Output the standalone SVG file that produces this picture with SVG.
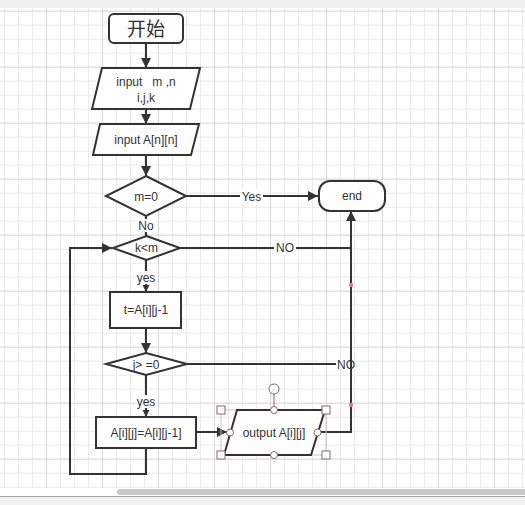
<svg xmlns="http://www.w3.org/2000/svg" width="525" height="505" viewBox="0 0 525 505">
<defs>
<pattern id="minor" patternUnits="userSpaceOnUse" x="4" y="10.7" width="14" height="14">
<path d="M0 0.5H14M0.5 0V14" fill="none" stroke="#eaeaea" stroke-width="1"/>
</pattern>
<pattern id="major" patternUnits="userSpaceOnUse" x="46" y="10.7" width="56" height="56">
<path d="M0 0.5H56M0.5 0V56" fill="none" stroke="#d8d8d8" stroke-width="1"/>
</pattern>
<marker id="arr" viewBox="0 0 10 10" refX="10" refY="5" markerWidth="11" markerHeight="10" markerUnits="userSpaceOnUse" orient="auto">
<path d="M0 0L10 5L0 10Z" fill="#333"/>
</marker>
<marker id="arrs" viewBox="0 0 10 10" refX="10" refY="5" markerWidth="7" markerHeight="7" markerUnits="userSpaceOnUse" orient="auto">
<path d="M0 0L10 5L0 10Z" fill="#333"/>
</marker>
</defs>
<style>
.shape{fill:#fff;stroke:#333;stroke-width:2}
.ln{fill:none;stroke:#333;stroke-width:2}
.t{font-family:"Liberation Sans","Noto Sans CJK SC",sans-serif;font-size:12px;fill:#333;text-anchor:middle;dominant-baseline:central}
.lbl{fill:#fff}
.h{fill:#fff;stroke:#8c6464;stroke-width:1}
.dot{fill:#e07a7a}
</style>
<rect x="0" y="0" width="525" height="505" fill="#fff"/>
<rect x="0" y="8" width="525" height="480" fill="url(#minor)"/>
<rect x="0" y="8" width="525" height="480" fill="url(#major)"/>
<rect x="0" y="0" width="525" height="8" fill="#f0f0f0"/>
<rect x="117" y="489" width="420" height="6" rx="3" fill="#c8c8c8"/>
<rect x="0" y="496" width="525" height="1" fill="#a8a8a8"/>
<rect x="0" y="497" width="525" height="8" fill="#f2f2f2"/>

<g id="connectors">
<line class="ln" x1="146" y1="43" x2="146" y2="68" marker-end="url(#arr)"/>
<line class="ln" x1="146" y1="110" x2="146" y2="124" marker-end="url(#arr)"/>
<line class="ln" x1="146" y1="155" x2="146" y2="176" marker-end="url(#arr)"/>
<line class="ln" x1="186" y1="196" x2="318" y2="196" marker-end="url(#arr)"/>
<rect class="lbl" x="240" y="189" width="23" height="14"/>
<text class="t" x="251.5" y="196.5">Yes</text>
<line class="ln" x1="146" y1="216" x2="146" y2="236"/>
<rect class="lbl" x="136" y="219" width="20" height="13"/>
<text class="t" x="146" y="225.5">No</text>
<polyline class="ln" points="180,248 351,248"/>
<rect class="lbl" x="274" y="241" width="22" height="14"/>
<text class="t" x="285" y="248">NO</text>
<line class="ln" x1="146" y1="260" x2="146" y2="292" marker-end="url(#arrs)"/>
<rect class="lbl" x="135" y="271" width="22" height="13"/>
<text class="t" x="146" y="277.5">yes</text>
<line class="ln" x1="146" y1="328" x2="146" y2="353" marker-end="url(#arr)"/>
<line class="ln" x1="187" y1="364" x2="336" y2="364"/>
<text class="t" x="346" y="364.5">NO</text>
<line class="ln" x1="146" y1="375" x2="146" y2="417" marker-end="url(#arrs)"/>
<rect class="lbl" x="135" y="395" width="22" height="13"/>
<text class="t" x="146" y="401.5">yes</text>
<line class="ln" x1="196" y1="432" x2="227" y2="432" marker-end="url(#arr)"/>
<polyline class="ln" points="146,448 146,474 70,474 70,248 112,248" marker-end="url(#arr)"/>
<polyline class="ln" points="318,432 351,432 351,211" marker-end="url(#arr)"/>
<circle class="dot" cx="351" cy="285" r="2.2"/>
<circle class="dot" cx="351" cy="405" r="2.2"/>
</g>

<g id="start">
<rect class="shape" x="109" y="14" width="74" height="29" rx="5"/>
<text class="t" x="146" y="29" style="font-size:19px">开始</text>
</g>
<g id="input1">
<polygon class="shape" points="102,68 200,68 190,109 92,109"/>
<text class="t" x="146" y="81.5">input&#160;&#160; m ,n</text>
<text class="t" x="146" y="97.5">i,j,k</text>
</g>
<g id="input2">
<polygon class="shape" points="100,124 199,124 191,155 93,155"/>
<text class="t" x="146" y="140">input A[n][n]</text>
</g>
<g id="cond1">
<polygon class="shape" points="146,176 186,196 146,216 106,196"/>
<text class="t" x="146" y="196.5">m=0</text>
</g>
<g id="end">
<rect class="shape" x="319" y="181" width="66" height="30" rx="11"/>
<text class="t" x="352" y="196">end</text>
</g>
<g id="cond2">
<polygon class="shape" points="146.5,236 180,248 146.5,260 113,248"/>
<text class="t" x="146.5" y="248">k&lt;m</text>
</g>
<g id="assign1">
<rect class="shape" x="110" y="292" width="71" height="36"/>
<text class="t" x="146" y="310">t=A[i][j-1</text>
</g>
<g id="cond3">
<polygon class="shape" points="146,353 187,364 146,375 106,364"/>
<text class="t" x="146" y="364.5">j&gt; =0</text>
</g>
<g id="assign2">
<rect class="shape" x="96" y="417" width="100" height="31"/>
<text class="t" x="146" y="432.5">A[i][j]=A[i][j-1]</text>
</g>
<g id="output">
<rect x="221" y="410" width="105" height="45" fill="none" stroke="#d2c2c2" stroke-width="1"/>
<polygon points="237,410 325,410 311,455 224,455" fill="#fff" stroke="#3a2e2e" stroke-width="2"/>
<text class="t" x="274" y="433">output A[i][j]</text>
<line x1="274" y1="394" x2="274" y2="410" stroke="#8c6464" stroke-width="1"/>
<circle class="h" cx="274" cy="389" r="5"/>
<circle class="h" cx="274" cy="410" r="3.5"/>
<circle class="h" cx="274" cy="455" r="3.5"/>
<circle class="h" cx="230" cy="432.5" r="3.5"/>
<circle class="h" cx="317.5" cy="432.5" r="3.5"/>
<rect class="h" x="217" y="406" width="8" height="8"/>
<rect class="h" x="322" y="406" width="8" height="8"/>
<rect class="h" x="217" y="451" width="8" height="8"/>
<rect class="h" x="322" y="451" width="8" height="8"/>
</g>
</svg>
